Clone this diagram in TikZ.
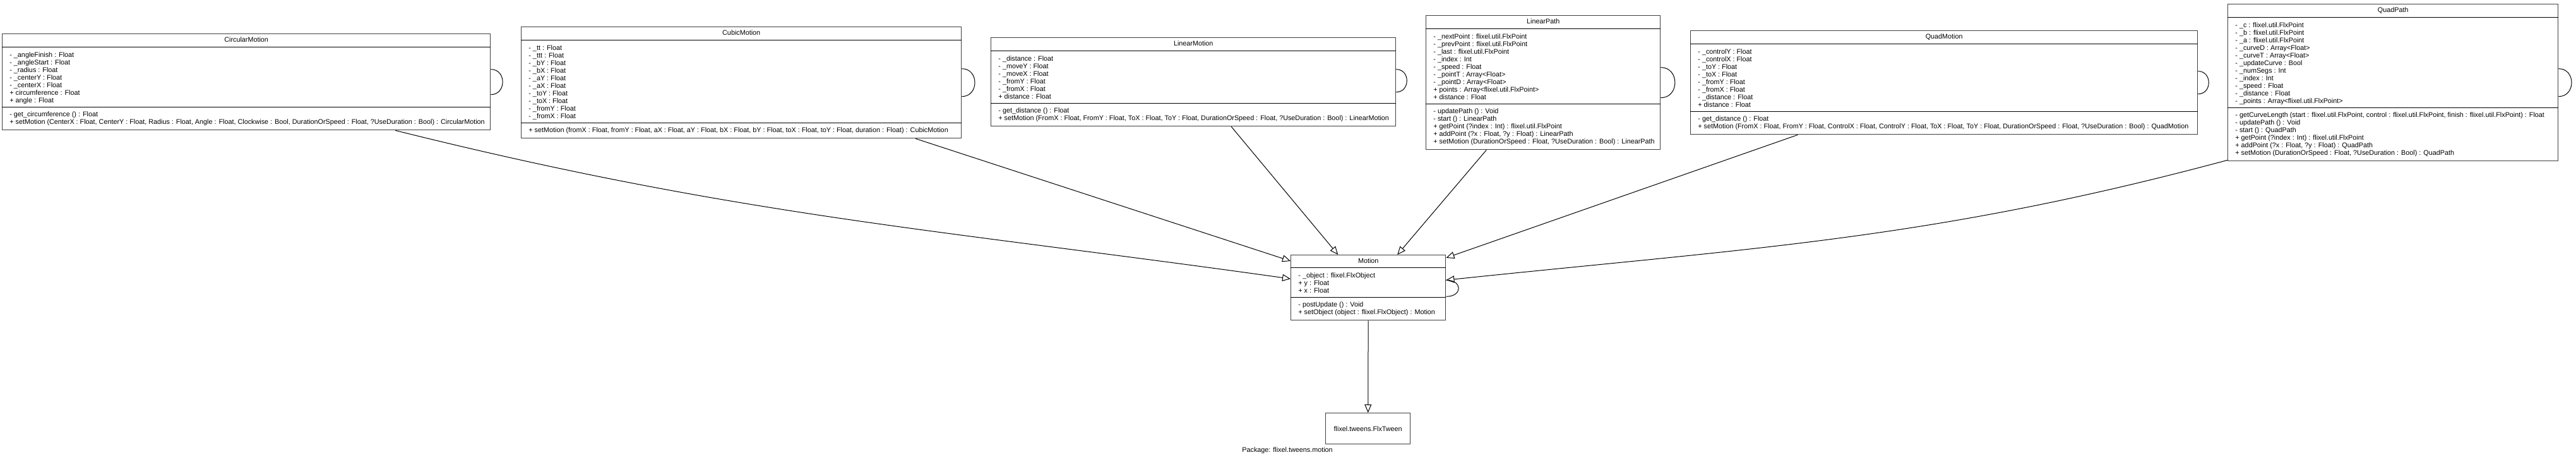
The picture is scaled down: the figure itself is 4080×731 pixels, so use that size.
\documentclass[tikz,border=0pt]{standalone}
\usepackage{fontspec}
\setmainfont{Liberation Sans}
\usetikzlibrary{arrows.meta}

\newcommand{\umlfont}{\fontsize{5.4}{6}\selectfont}

\begin{document}
\begin{tikzpicture}[x=0.5pt, y=-0.5pt,
  umlbox/.style={draw=black!75, line width=0.7pt, anchor=north west, inner sep=0pt, font=\umlfont},
  umltitle/.style={anchor=base, inner sep=0pt, font=\umlfont},
  fields/.style={anchor=north west, inner sep=0pt, align=left, font=\umlfont},
  sep/.style={line width=0.5pt},
  extends/.style={line width=0.5pt, -{Triangle[open, length=6.5pt, width=5.5pt]}},
  selfloop/.style={line width=0.5pt}]
\useasboundingbox (0,0) rectangle (4080,731);

% CircularMotion
\node[umlbox, minimum width=386.5pt, minimum height=76pt] (CM) at (3,53) {};
\node[umltitle] (CMt) at (CM.north |- 0,67) {CircularMotion};
\draw[sep] (CM.west |- 0,75) -- (CM.east |- 0,75);
\draw[sep] (CM.west |- 0,170) -- (CM.east |- 0,170);
\node[fields] (CMa) at (15,81.6) {\strut- \_angleFinish : Float\\- \_angleStart : Float\\- \_radius : Float\\- \_centerY : Float\\- \_centerX : Float\\+ circumference : Float\\+ angle : Float};
\node[fields] (CMm) at (15,175.6) {\strut- get\_circumference () : Float\\+ setMotion (CenterX : Float, CenterY : Float, Radius : Float, Angle : Float, Clockwise : Bool, DurationOrSpeed : Float, ?UseDuration : Bool) : CircularMotion};

% CubicMotion
\node[umlbox, minimum width=348.5pt, minimum height=88pt] (CB) at (825,42) {};
\node[umltitle] (CBt) at (CB.north |- 0,56) {CubicMotion};
\draw[sep] (CB.west |- 0,64) -- (CB.east |- 0,64);
\draw[sep] (CB.west |- 0,195) -- (CB.east |- 0,195);
\node[fields] (CBa) at (837,70.6) {\strut- \_tt : Float\\- \_ttt : Float\\- \_bY : Float\\- \_bX : Float\\- \_aY : Float\\- \_aX : Float\\- \_toY : Float\\- \_toX : Float\\- \_fromY : Float\\- \_fromX : Float};
\node[fields] (CBm) at (837,200.6) {\strut+ setMotion (fromX : Float, fromY : Float, aX : Float, aY : Float, bX : Float, bY : Float, toX : Float, toY : Float, duration : Float) : CubicMotion};

% LinearMotion
\node[umlbox, minimum width=320.5pt, minimum height=70pt] (LM) at (1569,59) {};
\node[umltitle] (LMt) at (LM.north |- 0,73) {LinearMotion};
\draw[sep] (LM.west |- 0,81) -- (LM.east |- 0,81);
\draw[sep] (LM.west |- 0,164) -- (LM.east |- 0,164);
\node[fields] (LMa) at (1581,87.6) {\strut- \_distance : Float\\- \_moveY : Float\\- \_moveX : Float\\- \_fromY : Float\\- \_fromX : Float\\+ distance : Float};
\node[fields] (LMm) at (1581,169.6) {\strut- get\_distance () : Float\\+ setMotion (FromX : Float, FromY : Float, ToX : Float, ToY : Float, DurationOrSpeed : Float, ?UseDuration : Bool) : LinearMotion};

% LinearPath
\node[umlbox, minimum width=185.5pt, minimum height=106pt] (LP) at (2258,24) {};
\node[umltitle] (LPt) at (LP.north |- 0,38) {LinearPath};
\draw[sep] (LP.west |- 0,46) -- (LP.east |- 0,46);
\draw[sep] (LP.west |- 0,165) -- (LP.east |- 0,165);
\node[fields] (LPa) at (2270,52.6) {\strut- \_nextPoint : flixel.util.FlxPoint\\- \_prevPoint : flixel.util.FlxPoint\\- \_last : flixel.util.FlxPoint\\- \_index : Int\\- \_speed : Float\\- \_pointT : Array<Float>\\- \_pointD : Array<Float>\\+ points : Array<flixel.util.FlxPoint>\\+ distance : Float};
\node[fields] (LPm) at (2270,170.6) {\strut- updatePath () : Void\\- start () : LinearPath\\+ getPoint (?index : Int) : flixel.util.FlxPoint\\+ addPoint (?x : Float, ?y : Float) : LinearPath\\+ setMotion (DurationOrSpeed : Float, ?UseDuration : Bool) : LinearPath};

% QuadMotion
\node[umlbox, minimum width=401.5pt, minimum height=82pt] (QM) at (2677,48) {};
\node[umltitle] (QMt) at (QM.north |- 0,62) {QuadMotion};
\draw[sep] (QM.west |- 0,70) -- (QM.east |- 0,70);
\draw[sep] (QM.west |- 0,177) -- (QM.east |- 0,177);
\node[fields] (QMa) at (2689,76.6) {\strut- \_controlY : Float\\- \_controlX : Float\\- \_toY : Float\\- \_toX : Float\\- \_fromY : Float\\- \_fromX : Float\\- \_distance : Float\\+ distance : Float};
\node[fields] (QMm) at (2689,182.6) {\strut- get\_distance () : Float\\+ setMotion (FromX : Float, FromY : Float, ControlX : Float, ControlY : Float, ToX : Float, ToY : Float, DurationOrSpeed : Float, ?UseDuration : Bool) : QuadMotion};

% QuadPath
\node[umlbox, minimum width=261.5pt, minimum height=124pt] (QP) at (3528,6) {};
\node[umltitle] (QPt) at (QP.north |- 0,20) {QuadPath};
\draw[sep] (QP.west |- 0,28) -- (QP.east |- 0,28);
\draw[sep] (QP.west |- 0,171) -- (QP.east |- 0,171);
\node[fields] (QPa) at (3540,34.6) {\strut- \_c : flixel.util.FlxPoint\\- \_b : flixel.util.FlxPoint\\- \_a : flixel.util.FlxPoint\\- \_curveD : Array<Float>\\- \_curveT : Array<Float>\\- \_updateCurve : Bool\\- \_numSegs : Int\\- \_index : Int\\- \_speed : Float\\- \_distance : Float\\- \_points : Array<flixel.util.FlxPoint>};
\node[fields] (QPm) at (3540,176.6) {\strut- getCurveLength (start : flixel.util.FlxPoint, control : flixel.util.FlxPoint, finish : flixel.util.FlxPoint) : Float\\- updatePath () : Void\\- start () : QuadPath\\+ getPoint (?index : Int) : flixel.util.FlxPoint\\+ addPoint (?x : Float, ?y : Float) : QuadPath\\+ setMotion (DurationOrSpeed : Float, ?UseDuration : Bool) : QuadPath};

% Motion
\node[umlbox, minimum width=122.5pt, minimum height=51.5pt] (M) at (2044,403) {};
\node[umltitle] (Mt) at (M.north |- 0,417) {Motion};
\draw[sep] (M.west |- 0,424) -- (M.east |- 0,424);
\draw[sep] (M.west |- 0,471) -- (M.east |- 0,471);
\node[fields] (Ma) at (2056,430.6) {\strut- \_object : flixel.FlxObject\\+ y : Float\\+ x : Float};
\node[fields] (Mm) at (2056,476.6) {\strut- postUpdate () : Void\\+ setObject (object : flixel.FlxObject) : Motion};

% FlxTween
\node[umlbox, minimum width=67pt, minimum height=24.5pt] (T) at (2099,653) {flixel.tweens.FlxTween};
\node[anchor=west, inner sep=0pt, font=\umlfont] (pkg) at (1967,713) {Package: flixel.tweens.motion};

% self loops
\draw[selfloop] ([yshift=10pt]CM.east) to[out=0, in=0, looseness=1.6] ([yshift=-10pt]CM.east);
\draw[selfloop] ([yshift=11pt]CB.east) to[out=0, in=0, looseness=1.6] ([yshift=-11pt]CB.east);
\draw[selfloop] ([yshift=10pt]LM.east) to[out=0, in=0, looseness=1.6] ([yshift=-8pt]LM.east);
\draw[selfloop] ([yshift=12pt]LP.east) to[out=0, in=0, looseness=1.6] ([yshift=-12pt]LP.east);
\draw[selfloop] ([yshift=9pt]QM.east) to[out=0, in=0, looseness=1.6] ([yshift=-9pt]QM.east);
\draw[selfloop] ([yshift=11pt]QP.east) to[out=0, in=0, looseness=1.6] ([yshift=-11pt]QP.east);
\draw[selfloop] ([yshift=-7pt]M.east) to[out=0, in=0, looseness=2.6] ([yshift=6pt]M.east);

% inheritance
\draw[extends] ([xshift=118pt]CM.south) to[out=-14, in=172] ([yshift=7pt]M.west);
\draw[extends] ([xshift=138pt]CB.south) -- ([yshift=-5pt]M.north west);
\draw[extends] ([xshift=30pt]LM.south) -- ([xshift=-24pt]M.north);
\draw[extends] ([xshift=-45pt]LP.south) -- ([xshift=23pt]M.north);
\draw[extends] ([xshift=-116pt]QM.south) -- ([yshift=-2.5pt]M.north east);
\draw[extends] ([yshift=1pt]QP.south west) to[out=195, in=6] ([yshift=6pt]M.east);
\draw[extends] (M) -- (T);
\end{tikzpicture}
\end{document}
